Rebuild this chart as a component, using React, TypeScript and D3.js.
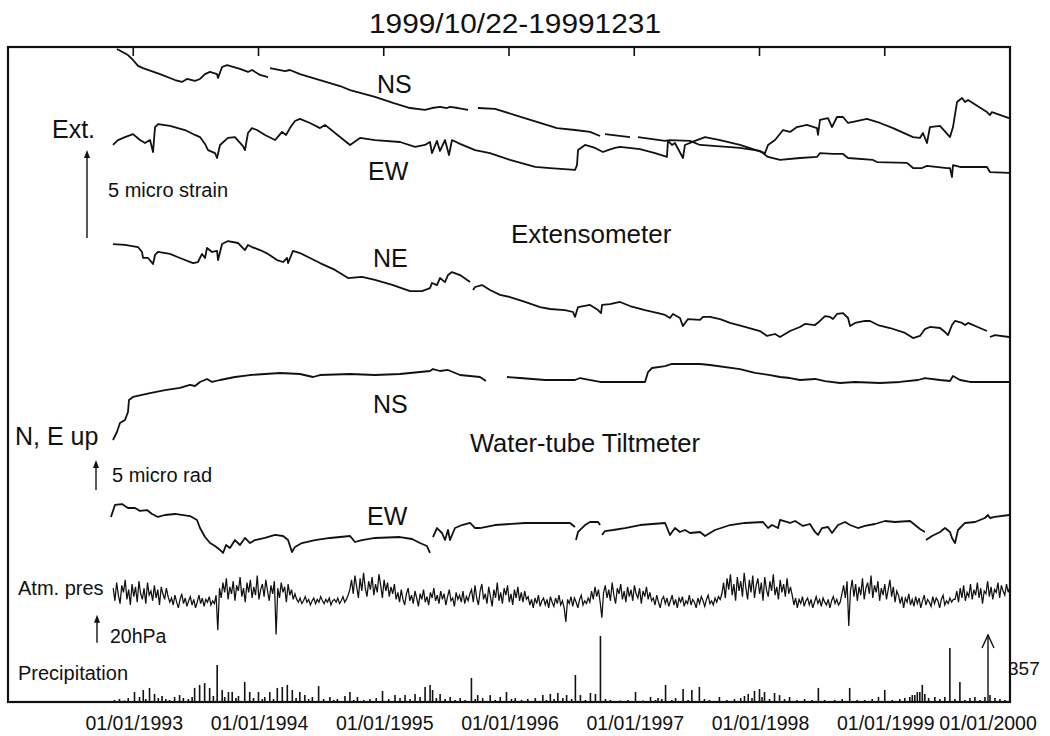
import React from "react";
import * as d3 from "d3";

type Pt = [number, number | null];

const FONT = "'Liberation Sans', Arial, Helvetica, sans-serif";

const titleText = "1999/10/22-19991231";
const tickYears = [1993, 1994, 1995, 1996, 1997, 1998, 1999, 2000];
const tickLabels = ["01/01/1993", "01/01/1994", "01/01/1995", "01/01/1996", "01/01/1997", "01/01/1998", "01/01/1999", "01/01/2000"];

// Extensometer (micro strain, arbitrary common origin)
const extNS: Pt[] = [[1992.870,19.94],[1992.958,19.60],[1992.998,19.32],[1993.038,18.98],[1993.078,18.86],[1993.214,18.52],[1993.333,18.18],[1993.389,18.07],[1993.429,18.24],[1993.493,18.13],[1993.533,18.24],[1993.573,18.52],[1993.613,18.64],[1993.669,18.52],[1993.677,18.30],[1993.709,18.92],[1993.749,19.03],[1993.852,18.81],[1993.916,18.64],[1993.948,18.75],[1994.012,18.47],[1994.076,18.35],[1994.084,null],[1994.092,18.86],[1994.212,18.69],[1994.251,18.75],[1994.331,18.52],[1994.491,18.18],[1994.651,17.84],[1994.731,17.61],[1994.930,17.22],[1995.074,16.88],[1995.210,16.59],[1995.329,16.48],[1995.385,16.59],[1995.449,16.65],[1995.505,16.59],[1995.529,16.65],[1995.593,16.59],[1995.673,16.48],[1995.71,null],[1995.752,16.59],[1995.888,16.54],[1996.048,16.19],[1996.248,15.74],[1996.383,15.45],[1996.527,15.34],[1996.647,15.23],[1996.727,15.00],[1996.745,null],[1996.766,15.11],[1996.966,14.94],[1996.99,null],[1997.030,14.94],[1997.246,14.72],[1997.285,14.77],[1997.445,14.72],[1997.525,14.49],[1997.844,14.32],[1998.004,14.15],[1998.068,13.81],[1998.164,13.64],[1998.323,13.75],[1998.459,13.81],[1998.483,14.03],[1998.587,13.98],[1998.667,13.98],[1998.707,13.75],[1998.906,13.64],[1998.938,13.52],[1999.178,13.47],[1999.226,13.18],[1999.297,13.18],[1999.337,13.30],[1999.497,13.18],[1999.521,13.18],[1999.537,12.67],[1999.545,13.35],[1999.601,13.24],[1999.816,13.24],[1999.840,12.95],[1999.992,12.90]];

const extEW: Pt[] = [[1992.838,14.49],[1992.878,14.77],[1992.934,14.94],[1992.998,15.11],[1993.054,14.77],[1993.094,14.60],[1993.134,14.77],[1993.158,14.09],[1993.174,15.51],[1993.198,15.68],[1993.293,15.57],[1993.413,15.34],[1993.493,15.06],[1993.533,14.94],[1993.573,14.55],[1993.597,14.20],[1993.653,14.03],[1993.669,13.75],[1993.693,14.49],[1993.756,14.89],[1993.812,14.94],[1993.876,14.43],[1993.892,14.20],[1993.916,15.17],[1993.948,15.45],[1993.988,15.34],[1994.052,15.06],[1994.132,14.77],[1994.148,14.89],[1994.188,15.23],[1994.220,15.06],[1994.251,15.45],[1994.291,15.85],[1994.331,15.97],[1994.411,15.74],[1994.491,15.45],[1994.531,15.63],[1994.651,14.94],[1994.731,14.49],[1994.810,14.89],[1994.930,14.77],[1995.130,14.66],[1995.250,14.38],[1995.329,14.49],[1995.369,14.66],[1995.385,14.03],[1995.425,14.72],[1995.449,14.15],[1995.489,14.77],[1995.521,13.92],[1995.545,14.77],[1995.609,14.55],[1995.729,14.20],[1995.848,14.03],[1996.008,13.64],[1996.208,13.24],[1996.327,13.18],[1996.527,13.07],[1996.543,13.35],[1996.551,14.20],[1996.607,14.49],[1996.687,14.32],[1996.750,14.09],[1996.790,14.20],[1996.846,14.32],[1996.886,14.38],[1997.046,14.26],[1997.166,14.03],[1997.261,13.81],[1997.269,14.72],[1997.301,14.49],[1997.325,14.60],[1997.389,13.75],[1997.405,14.49],[1997.485,14.72],[1997.565,14.94],[1997.685,14.77],[1997.844,14.49],[1998.044,14.03],[1998.068,14.49],[1998.124,14.77],[1998.188,15.34],[1998.244,15.23],[1998.299,15.51],[1998.379,15.63],[1998.459,15.45],[1998.467,15.06],[1998.483,15.91],[1998.547,16.02],[1998.579,15.51],[1998.619,16.08],[1998.667,16.08],[1998.707,15.74],[1998.747,15.80],[1998.858,15.97],[1998.962,15.74],[1999.066,15.45],[1999.226,14.94],[1999.281,14.89],[1999.305,15.17],[1999.337,14.60],[1999.361,15.51],[1999.441,15.57],[1999.505,15.06],[1999.521,14.94],[1999.545,15.51],[1999.577,16.93],[1999.617,17.16],[1999.641,16.93],[1999.665,17.05],[1999.816,16.36],[1999.840,16.19],[1999.856,16.36],[1999.992,16.02]];

const extNE: Pt[] = [[1992.838,8.86],[1992.934,8.81],[1993.038,8.69],[1993.070,8.41],[1993.078,8.07],[1993.118,8.07],[1993.158,7.73],[1993.174,8.24],[1993.198,8.41],[1993.293,8.30],[1993.373,8.07],[1993.477,7.78],[1993.517,7.84],[1993.549,8.30],[1993.573,8.07],[1993.589,8.64],[1993.629,8.41],[1993.669,8.47],[1993.677,7.95],[1993.709,8.86],[1993.756,9.03],[1993.836,8.92],[1993.892,8.52],[1993.916,8.81],[1993.948,8.69],[1994.012,8.52],[1994.076,8.30],[1994.148,7.95],[1994.196,7.84],[1994.228,8.07],[1994.236,7.78],[1994.275,8.47],[1994.331,8.35],[1994.411,8.07],[1994.491,7.78],[1994.611,7.39],[1994.715,6.93],[1994.826,6.99],[1994.930,6.82],[1995.074,6.53],[1995.210,6.19],[1995.305,6.19],[1995.369,6.36],[1995.385,6.65],[1995.425,6.53],[1995.449,6.93],[1995.489,6.70],[1995.513,7.10],[1995.545,7.27],[1995.609,7.10],[1995.689,6.70],[1995.70,null],[1995.713,6.25],[1995.729,6.42],[1995.784,6.53],[1995.848,6.25],[1995.928,5.97],[1996.008,5.85],[1996.128,5.57],[1996.248,5.28],[1996.327,5.17],[1996.447,5.11],[1996.511,5.00],[1996.527,4.72],[1996.551,5.28],[1996.647,5.40],[1996.711,5.11],[1996.735,4.94],[1996.743,5.40],[1996.806,5.45],[1996.886,5.57],[1996.966,5.34],[1997.086,5.11],[1997.190,4.94],[1997.246,4.83],[1997.285,4.66],[1997.309,4.89],[1997.365,4.66],[1997.389,4.20],[1997.429,4.60],[1997.525,4.55],[1997.549,4.72],[1997.605,4.72],[1997.685,4.60],[1997.765,4.38],[1997.884,4.15],[1998.004,3.92],[1998.060,3.64],[1998.124,3.75],[1998.164,3.58],[1998.244,3.92],[1998.323,4.15],[1998.363,4.32],[1998.443,4.26],[1998.483,4.49],[1998.523,4.77],[1998.563,4.72],[1998.587,4.60],[1998.619,4.89],[1998.667,4.94],[1998.707,4.66],[1998.723,4.20],[1998.763,4.38],[1998.842,4.49],[1998.882,4.49],[1998.946,4.26],[1999.042,4.09],[1999.162,3.81],[1999.226,3.52],[1999.281,3.64],[1999.321,4.03],[1999.361,4.15],[1999.441,4.09],[1999.481,3.86],[1999.505,3.69],[1999.537,4.26],[1999.561,4.49],[1999.617,4.38],[1999.641,4.26],[1999.665,4.38],[1999.760,4.09],[1999.816,3.92],[1999.828,null],[1999.840,3.58],[1999.880,3.69],[1999.992,3.58]];

// Water-tube tiltmeter (micro rad, arbitrary common origin)
const tiltNS: Pt[] = [[1992.838,30.0],[1992.870,31.33],[1992.894,32.83],[1992.934,33.33],[1992.958,34.67],[1992.966,36.67],[1992.998,37.17],[1993.134,37.83],[1993.253,38.33],[1993.373,38.67],[1993.453,39.17],[1993.493,39.0],[1993.533,39.67],[1993.589,40.17],[1993.629,39.67],[1993.693,40.0],[1993.812,40.5],[1993.932,40.83],[1994.172,41.17],[1994.331,41.0],[1994.435,40.5],[1994.491,40.83],[1994.731,41.0],[1994.930,40.83],[1995.130,41.0],[1995.369,41.5],[1995.393,41.83],[1995.449,41.5],[1995.513,41.67],[1995.609,40.83],[1995.768,40.5],[1995.816,39.83],[1995.90,null],[1995.984,40.5],[1996.088,40.33],[1996.287,40.0],[1996.527,40.0],[1996.567,40.33],[1996.727,39.67],[1996.886,39.67],[1997.086,39.67],[1997.110,41.33],[1997.142,42.0],[1997.246,42.33],[1997.301,42.67],[1997.525,42.67],[1997.605,42.5],[1997.844,41.83],[1997.964,41.17],[1998.084,40.83],[1998.164,40.5],[1998.244,40.33],[1998.323,40.0],[1998.443,40.17],[1998.523,39.83],[1998.643,39.5],[1998.763,39.67],[1998.962,39.5],[1999.122,39.67],[1999.265,40.0],[1999.321,40.33],[1999.441,40.0],[1999.521,39.83],[1999.545,40.67],[1999.601,40.0],[1999.681,39.67],[1999.840,39.67],[1999.992,39.67]];

const tiltEW: Pt[] = [[1992.822,17.17],[1992.854,19.17],[1992.910,19.33],[1992.958,18.67],[1993.014,18.67],[1993.054,18.17],[1993.110,18.33],[1993.150,17.67],[1993.198,17.17],[1993.253,17.5],[1993.333,17.67],[1993.453,17.33],[1993.509,16.67],[1993.533,15.33],[1993.573,13.83],[1993.613,12.83],[1993.653,12.33],[1993.693,11.67],[1993.717,11.17],[1993.741,12.5],[1993.772,12.0],[1993.812,13.33],[1993.852,12.5],[1993.892,13.67],[1993.932,12.83],[1993.972,13.33],[1994.052,13.67],[1994.132,14.17],[1994.196,14.0],[1994.236,13.33],[1994.267,11.33],[1994.291,12.17],[1994.347,12.83],[1994.451,13.33],[1994.571,13.67],[1994.731,14.0],[1994.770,13.0],[1994.826,13.33],[1994.930,13.67],[1995.130,13.83],[1995.226,13.5],[1995.289,12.83],[1995.345,12.33],[1995.369,11.17],[1995.381,null],[1995.393,13.83],[1995.425,15.33],[1995.465,14.5],[1995.489,13.33],[1995.513,15.0],[1995.529,13.33],[1995.569,15.33],[1995.625,15.83],[1995.689,16.17],[1995.729,15.33],[1995.768,15.33],[1995.888,15.83],[1996.128,16.17],[1996.287,16.17],[1996.487,16.17],[1996.527,15.5],[1996.531,null],[1996.535,13.33],[1996.551,14.67],[1996.607,15.83],[1996.647,16.33],[1996.711,16.33],[1996.727,15.83],[1996.735,null],[1996.743,14.17],[1996.766,14.83],[1996.830,15.0],[1996.926,15.33],[1997.046,15.83],[1997.246,16.17],[1997.269,15.0],[1997.285,14.17],[1997.325,15.33],[1997.365,14.67],[1997.405,15.0],[1997.445,14.5],[1997.525,14.67],[1997.565,14.0],[1997.645,15.0],[1997.765,15.83],[1997.884,16.17],[1998.028,16.33],[1998.068,15.33],[1998.100,15.83],[1998.148,15.33],[1998.164,16.67],[1998.244,16.17],[1998.284,16.5],[1998.347,15.67],[1998.403,16.0],[1998.443,14.67],[1998.467,14.17],[1998.499,15.33],[1998.547,15.5],[1998.579,14.5],[1998.627,15.83],[1998.683,16.33],[1998.723,15.83],[1998.786,15.33],[1998.842,15.67],[1998.922,16.0],[1999.002,16.5],[1999.082,16.33],[1999.202,16.5],[1999.242,15.83],[1999.281,15.17],[1999.321,14.67],[1999.325,null],[1999.329,13.33],[1999.377,14.0],[1999.441,14.67],[1999.481,15.33],[1999.521,14.67],[1999.537,13.67],[1999.561,12.83],[1999.585,15.0],[1999.641,16.17],[1999.721,16.33],[1999.800,17.0],[1999.824,17.5],[1999.840,17.0],[1999.880,17.17],[1999.992,17.5]];

// Atmospheric pressure (hPa), one reading every 5 days from presStart
const presStart = 1992.84;
const presStepDays = 5;
const presHPa = [
  1020,1011,1024,1015,1009,1022,1017,1026,1012,1019,1008,1023,1014,1021,1010,1025,1016,1012,1020,1009,1024,1015,1018,1011,1022,1013,1019,1008,1021,1016,1012,1020,1014,1010,
  1013,1008,1015,1010,1006,1012,1016,1009,1013,1007,1011,1014,1008,1012,1006,1010,1015,1009,1013,1007,1012,1010,1014,1008,1011,1009,
  1015,990,1020,1013,1024,1017,1027,1012,1021,1016,1025,1011,1022,1018,1028,1014,1020,1010,1024,1017,1026,1013,1021,1015,1029,1012,1019,1023,1014,1026,1018,1011,1022,1016,1025,987,1020,1013,1024,1017,1021,1010,1023,1015,1019,1012,1016,
  1012,1010,1013,1009,1011,1014,1010,1012,1008,1011,1013,1009,1012,1010,1014,1011,1009,1012,1010,1013,1008,1011,1012,1010,1013,1009,1011,1014,1010,1012,1015,
  1019,1026,1016,1029,1021,1013,1027,1018,1031,1020,1014,1025,1019,1028,1015,1023,1017,1030,1022,1013,1026,1018,1024,1014,1021,1016,1023,1012,
  1017,1010,1019,1012,1008,1016,1020,1011,1015,1009,1018,1013,1007,1016,1012,1019,1010,1014,1008,1017,1013,1020,1011,1015,1009,1018,1012,1016,1008,1014,1019,1011,1013,1007,1017,1012,1015,1010,1018,1009,1014,1011,1016,
  1019,1010,1022,1013,1008,1018,1023,1012,1016,1009,1021,1014,1007,1019,1013,1024,1011,1017,1009,1020,1015,1022,1010,1016,1008,1019,1013,1021,1011,1017,1010,1018,1012,
  1014,1008,1012,1006,1013,1009,1015,1007,1011,1013,1008,1012,1006,1014,1010,1007,1013,1009,1015,1008,1011,1006,996,1012,1009,1014,1007,1013,1010,1006,1012,1015,1008,1011,1009,1013,1010,
  1018,1012,1021,1014,1019,1010,999,1017,1022,1013,1019,1011,1024,1015,1009,1020,1016,1023,1012,1018,1010,1021,1014,1019,1011,1022,1016,1013,1020,1009,1018,1014,1021,1012,1017,1011,
  1013,1008,1015,1010,1006,1012,1014,1009,1013,1007,1011,1015,1008,1012,1006,1013,1010,1014,1007,1011,1009,1015,1008,1012,1010,1006,1013,1009,1014,1011,1007,1012,1015,1009,1011,1008,1013,1010,1014,1012,
  1016,1024,1013,1027,1019,1030,1015,1023,1011,1028,1018,1025,1014,1031,1020,1012,1026,1017,1029,1013,1022,1027,1016,1024,1011,1028,1019,1014,1025,1018,1030,1015,1021,1012,1026,1017,1023,1014,1027,1016,1021,
  1015,1008,1013,1006,1012,1009,1014,1007,1011,1013,1008,1012,1006,1010,1014,1009,1012,1007,1013,1010,1008,1012,1006,1011,1014,1009,1012,1008,1010,
  1016,1022,1013,1025,993,1018,1026,1014,1023,1011,1021,1015,1027,1012,1020,1024,1016,1029,1013,1022,1017,1025,1011,1020,1015,1023,1012,1019,1026,1014,1021,1010,1018,
  1015,1009,1014,1006,1013,1010,1016,1008,1012,1007,1014,1009,1013,1006,1011,1015,1008,1012,1010,1007,1014,1009,1013,1011,1006,1012,1015,1008,1011,1009,1013,1010,1012,
  1012,1018,1010,1020,1013,1022,1011,1017,1014,1023,1012,1019,1015,1024,1013,1020,1009,1018,1016,1025,1014,1021,1012,1019,1017,1024,1013,1022,1018,1015,1023,1017,1021
];

// Precipitation (mm): [decimal year, amount]
const precip: [number, number][] = [[1992.85,11],[1992.89,16],[1992.93,8],[1992.96,21],[1993.01,53],[1993.05,27],[1993.08,64],[1993.10,16],[1993.13,75],[1993.17,43],[1993.20,21],[1993.23,32],[1993.26,16],[1993.29,11],[1993.33,27],[1993.37,37],[1993.40,21],[1993.44,16],[1993.47,27],[1993.49,75],[1993.53,91],[1993.57,101],[1993.61,75],[1993.64,32],[1993.67,197],[1993.71,64],[1993.73,27],[1993.76,53],[1993.79,53],[1993.82,21],[1993.84,32],[1993.89,107],[1993.93,53],[1993.96,21],[1994.00,53],[1994.03,16],[1994.05,27],[1994.09,53],[1994.12,16],[1994.15,75],[1994.19,80],[1994.23,91],[1994.27,64],[1994.30,21],[1994.33,53],[1994.37,37],[1994.40,16],[1994.43,27],[1994.48,85],[1994.52,16],[1994.57,27],[1994.60,11],[1994.63,16],[1994.69,32],[1994.73,53],[1994.76,11],[1994.79,27],[1994.84,11],[1994.89,16],[1994.94,21],[1994.99,59],[1995.04,16],[1995.09,37],[1995.13,21],[1995.17,37],[1995.21,16],[1995.25,43],[1995.29,27],[1995.33,80],[1995.37,91],[1995.39,64],[1995.42,21],[1995.45,43],[1995.49,16],[1995.53,27],[1995.57,11],[1995.61,21],[1995.65,11],[1995.70,128],[1995.73,16],[1995.75,37],[1995.79,21],[1995.85,37],[1995.89,11],[1995.93,27],[1995.98,53],[1996.02,16],[1996.05,21],[1996.10,11],[1996.15,16],[1996.21,21],[1996.27,37],[1996.30,11],[1996.33,43],[1996.36,16],[1996.39,48],[1996.43,21],[1996.46,37],[1996.50,16],[1996.53,144],[1996.57,37],[1996.61,11],[1996.65,48],[1996.69,43],[1996.73,352],[1996.77,16],[1996.81,11],[1996.89,8],[1996.95,11],[1997.01,53],[1997.07,8],[1997.13,27],[1997.17,11],[1997.19,21],[1997.22,16],[1997.25,91],[1997.30,11],[1997.33,21],[1997.39,69],[1997.43,11],[1997.46,64],[1997.52,80],[1997.56,16],[1997.60,11],[1997.68,27],[1997.74,11],[1997.80,16],[1997.85,21],[1997.88,32],[1997.91,43],[1997.94,21],[1997.96,59],[1998.00,69],[1998.02,27],[1998.04,53],[1998.08,16],[1998.12,48],[1998.16,37],[1998.20,16],[1998.24,27],[1998.30,11],[1998.36,16],[1998.42,11],[1998.47,75],[1998.52,11],[1998.60,11],[1998.66,16],[1998.72,75],[1998.78,11],[1998.84,11],[1998.90,16],[1998.95,27],[1999.00,64],[1999.06,11],[1999.12,16],[1999.16,21],[1999.20,27],[1999.22,37],[1999.24,37],[1999.26,53],[1999.28,53],[1999.30,91],[1999.32,43],[1999.35,21],[1999.40,27],[1999.44,16],[1999.48,27],[1999.52,288],[1999.56,16],[1999.60,107],[1999.64,11],[1999.68,21],[1999.72,27],[1999.76,11],[1999.80,27],[1999.84,37],[1999.88,21],[1999.92,16],[1999.96,11]];

// scale-bar sizes
const strainBar = 5;
const tiltBar = 5;
const presBar = 20;
const precipBar = 357;

export default function App() {
  const W = 1050, H = 736;
  const L = 8, R = 1010, T = 47, B = 702;
  const x = d3.scaleLinear().domain([1992, 2000]).range([L, R]);
  const yExt = d3.scaleLinear().domain([0, 5]).range([400, 312]);
  const yTilt = d3.scaleLinear().domain([0, 5]).range([620, 590]);
  const yPres = d3.scaleLinear().domain([1013, 1033]).range([598, 570]);
  const yPrec = d3.scaleLinear().domain([0, precipBar]).range([B, 635]);

  const mk = (ys: d3.ScaleLinear<number, number>) =>
    d3.line<Pt>().defined(d => d[1] !== null).x(d => x(d[0])).y(d => ys(d[1] as number));

  const presPts: Pt[] = presHPa.map((v, i) => [presStart + (i * presStepDays) / 365.25, v]);

  const traceStyle = { fill: "none", stroke: "#111", strokeWidth: 1.8, strokeLinejoin: "round" as const };

  const arrowFilled = (ax: number, y1: number, y2: number) => (
    <g>
      <line x1={ax} y1={y1} x2={ax} y2={y2 + 6} stroke="#111" strokeWidth={1.4} />
      <path d={`M${ax},${y2} L${ax - 3},${y2 + 8} L${ax + 3},${y2 + 8} Z`} fill="#111" />
    </g>
  );

  const text = (s: string, tx: number, ty: number, size: number, anchor: string = "start") => (
    <text x={tx} y={ty} fontSize={size} fontFamily={FONT} textAnchor={anchor} fill="#111">{s}</text>
  );

  // scale bar anchors (value at the arrow tail)
  const extBase = 9.2;
  const tiltBase = 21.67;
  const presBase = 981;

  const labelX = (yr: number, i: number) => (i === 7 ? 988 : x(yr) + 1);

  return (
    <svg width={W} height={H} style={{ position: "absolute", left: 0, top: 0, background: "#fff" }}>
      <rect width={W} height={H} fill="#fff" />
      <text x={515} y={33} fontSize={27} fontFamily={FONT} textAnchor="middle" fill="#111"
        textLength={292} lengthAdjust="spacingAndGlyphs">{titleText}</text>

      {/* frame */}
      <rect x={L} y={T} width={R - L} height={B - T} fill="none" stroke="#111" strokeWidth={2.2} />
      {tickYears.slice(0, 7).map(yr => (
        <line key={yr} x1={x(yr)} x2={x(yr)} y1={T} y2={T + 9} stroke="#111" strokeWidth={1.6} />
      ))}

      {/* traces */}
      <path d={mk(yExt)(extNS) || ""} {...traceStyle} />
      <path d={mk(yExt)(extEW) || ""} {...traceStyle} />
      <path d={mk(yExt)(extNE) || ""} {...traceStyle} />
      <path d={mk(yTilt)(tiltNS) || ""} {...traceStyle} />
      <path d={mk(yTilt)(tiltEW) || ""} {...traceStyle} />
      <path d={mk(yPres)(presPts) || ""} fill="none" stroke="#111" strokeWidth={1.25} />

      {/* precipitation bars */}
      {precip.map(([yr, mm], i) => (
        <line key={i} x1={x(yr)} x2={x(yr)} y1={B} y2={yPrec(mm)} stroke="#111" strokeWidth={1.6} />
      ))}

      {/* scale bars */}
      {arrowFilled(87, yExt(extBase), yExt(extBase + strainBar))}
      {arrowFilled(96, yTilt(tiltBase), yTilt(tiltBase + tiltBar))}
      {arrowFilled(97, yPres(presBase), yPres(presBase + presBar))}
      <g>
        <line x1={988} x2={988} y1={yPrec(0)} y2={yPrec(precipBar)} stroke="#111" strokeWidth={1.4} />
        <path d={`M${988 - 6},${yPrec(precipBar) + 13} L988,${yPrec(precipBar)} L${988 + 6},${yPrec(precipBar) + 13}`}
          fill="none" stroke="#111" strokeWidth={1.4} />
      </g>

      {/* labels */}
      {text("NS", 377, 93, 25)}
      {text("EW", 368, 180, 25)}
      {text("Extensometer", 511, 243, 26)}
      {text("NE", 373, 267, 25)}
      {text("Ext.", 52, 138, 25)}
      {text("5 micro strain", 108, 197, 20)}
      {text("NS", 373, 413, 25)}
      {text("N, E up", 15, 445, 25)}
      {text("Water-tube Tiltmeter", 470, 452, 25.5)}
      {text("5 micro rad", 112, 482, 20)}
      {text("EW", 367, 525, 25)}
      {text("Atm. pres", 18, 595, 20)}
      {text("20hPa", 110, 643, 19.5)}
      {text("Precipitation", 18, 680, 20)}
      {text(String(precipBar), 1008, 675, 19)}

      {/* bottom tick labels */}
      {tickYears.map((yr, i) => (
        <text key={yr} x={labelX(yr, i)} y={730} fontSize={19.5} fontFamily={FONT}
          textAnchor="middle" fill="#111">{tickLabels[i]}</text>
      ))}
    </svg>
  );
}
